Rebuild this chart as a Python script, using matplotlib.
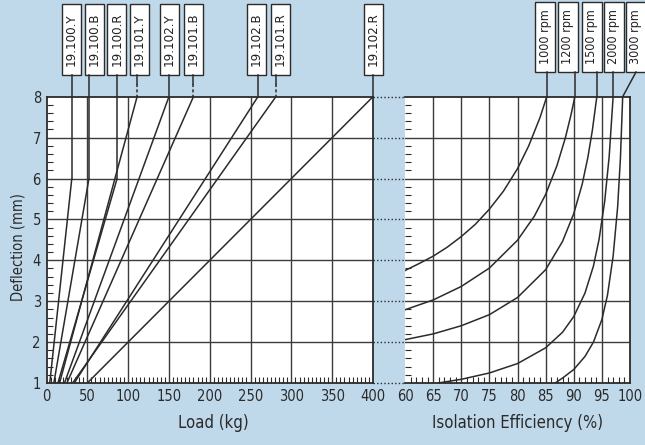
import matplotlib
matplotlib.use('Agg')
import matplotlib.pyplot as plt
from matplotlib import font_manager
from matplotlib.font_manager import FontProperties
from matplotlib.patches import Rectangle
from matplotlib.lines import Line2D
from matplotlib.ticker import MultipleLocator

# ---------------- data ----------------
mount_names = ['19.100.Y', '19.100.B', '19.100.R', '19.101.Y', '19.102.Y',
               '19.101.B', '19.102.B', '19.101.R', '19.102.R']
load_at_1mm = [4, 9, 14, 16, 22, 25, 34, 32, 50]          # kg at 1 mm deflection
load_at_end = [31, 52, 86.5, 111, 150, 180, 259, 281, 400]  # kg at end of line
defl_at_end = [6, 6, 6, 8, 8, 8, 8, 8, 8]                   # mm at end of line

rpm_names = ['1000 rpm', '1200 rpm', '1500 rpm', '2000 rpm', '3000 rpm']
eff_1000 = [60, 62.5, 65, 67.5, 70, 72.5, 75, 77.5, 80, 82, 84, 85.2]
defl_1000 = [3.75, 3.92, 4.10, 4.32, 4.58, 4.88, 5.25, 5.69, 6.24, 6.80, 7.49, 8.0]
eff_1200 = [60, 65, 70, 75, 80, 83, 85, 87, 88.5, 89.5, 90.2]
defl_1200 = [2.79, 3.03, 3.36, 3.81, 4.49, 5.08, 5.61, 6.31, 6.99, 7.55, 8.0]
eff_1500 = [60, 65, 70, 75, 80, 85, 88, 90, 91.5, 92.5, 93.3, 94.1]
defl_1500 = [2.06, 2.20, 2.40, 2.67, 3.09, 3.77, 4.46, 5.14, 5.86, 6.51, 7.17, 8.0]
eff_2000 = [65.9, 70, 75, 80, 85, 88, 90, 92, 93.5, 94.5, 95.5, 96.3, 97]
defl_2000 = [1.0, 1.09, 1.245, 1.475, 1.86, 2.24, 2.625, 3.2, 3.86, 4.51, 5.44, 6.54, 8.0]
eff_3000 = [86.7, 88, 90, 92, 93.5, 95, 96, 97, 97.8, 98.3, 98.7]
defl_3000 = [1.0, 1.12, 1.33, 1.65, 2.0, 2.55, 3.15, 4.1, 5.3, 6.5, 8.0]

load_ticks = [0, 50, 100, 150, 200, 250, 300, 350, 400]
eff_ticks = [60, 65, 70, 75, 80, 85, 90, 95, 100]
defl_ticks = [1, 2, 3, 4, 5, 6, 7, 8]

# ---------------- layout / style ----------------
W, H = 645, 445
BG = '#c0d9ea'
INK = '#2b2b2b'
GRID = '#3c3c3c'
mount_box_px = [71, 94, 116.7, 139, 169, 193, 256, 280, 373]
mount_dashed = [False, False, False, True, False, True, False, True, False]
rpm_box_px = [545, 568, 592, 614, 636]


def pick_narrow():
    best = None
    for f in font_manager.fontManager.ttflist:
        nm = f.name.lower()
        st = str(f.stretch).lower()
        if f.style != 'normal':
            continue
        if f.weight not in (400, 'normal', 'regular', 'book'):
            continue
        if 'narrow' in nm or 'condensed' in nm or st in ('condensed', 'semi-condensed'):
            if 'mono' in nm or 'serif' in nm and 'sans' not in nm:
                continue
            if 'liberation sans narrow' in nm:
                return f.fname
            if best is None:
                best = f.fname
    return best


narrow_path = pick_narrow()


def fp(size):
    if narrow_path:
        return FontProperties(fname=narrow_path, size=size)
    return FontProperties(family='Liberation Sans', size=size * 0.85)


def fx(px):
    return px / W


def fy(py):
    return 1 - py / H


fig = plt.figure(figsize=(W / 100, H / 100), dpi=100, facecolor=BG)

ax1 = fig.add_axes([fx(46.5), fy(383), (373 - 46.5) / W, (383 - 96.7) / H])
ax2 = fig.add_axes([fx(405), fy(383), (630 - 405) / W, (383 - 96.7) / H])

for ax in (ax1, ax2):
    ax.set_facecolor('white')
    ax.set_ylim(1, 8)
    ax.set_yticks(defl_ticks)
    ax.yaxis.set_minor_locator(MultipleLocator(0.2))
    ax.tick_params(which='major', length=0, pad=4, colors='#2a2a2a')
    ax.tick_params(which='minor', direction='in', length=4, width=0.8, color=INK)
    for s in ax.spines.values():
        s.set_color(INK)
        s.set_linewidth(1.3)
    for yv in defl_ticks[1:-1]:
        ax.axhline(yv, color=GRID, lw=1.0, zorder=1)

ax1.set_xlim(0, 400)
ax1.set_xticks(load_ticks)
ax1.xaxis.set_minor_locator(MultipleLocator(5))
for xv in load_ticks[1:-1]:
    ax1.axvline(xv, color=GRID, lw=1.0, zorder=1)

ax2.set_xlim(60, 100)
ax2.set_xticks(eff_ticks)
ax2.xaxis.set_minor_locator(MultipleLocator(1))
ax2.tick_params(axis='y', which='major', labelleft=False)
ax2.spines['left'].set_visible(False)
for xv in eff_ticks[1:-1]:
    ax2.axvline(xv, color=GRID, lw=1.0, zorder=1)

for ax in (ax1, ax2):
    for lbl in ax.get_xticklabels() + ax.get_yticklabels():
        lbl.set_fontproperties(fp(10.5))

# mounting load lines
for i in range(len(mount_names)):
    ax1.plot([load_at_1mm[i], load_at_end[i]], [1, defl_at_end[i]],
             color=INK, lw=1.1, zorder=3, solid_capstyle='butt')

# efficiency curves
rpm_eff = [eff_1000, eff_1200, eff_1500, eff_2000, eff_3000]
rpm_defl = [defl_1000, defl_1200, defl_1500, defl_2000, defl_3000]
for e, d in zip(rpm_eff, rpm_defl):
    ax2.plot(e, d, color=INK, lw=1.1, zorder=3, clip_on=True)

# dotted continuation of horizontal lines in the gap
for yv in defl_ticks:
    yd = ax1.transData.transform((0, yv))[1]
    yf = fig.transFigure.inverted().transform((0, yd))[1]
    fig.add_artist(Line2D([fx(373), fx(405)], [yf, yf], transform=fig.transFigure,
                          color=INK, lw=1.0, linestyle=(0, (1, 1.6))))


def to_fig(ax, x, y):
    return fig.transFigure.inverted().transform(ax.transData.transform((x, y)))


# label boxes for mountings
BOX_TOP, BOX_BOT = 4, 75
for i, name in enumerate(mount_names):
    cx = mount_box_px[i]
    bw = 19
    fig.add_artist(Rectangle((fx(cx - bw / 2), fy(BOX_BOT)), bw / W, (BOX_BOT - BOX_TOP) / H,
                             transform=fig.transFigure, fc='white', ec=INK, lw=1.0))
    fig.text(fx(cx), fy((BOX_TOP + BOX_BOT) / 2), name, rotation=90,
             ha='center', va='center', fontproperties=fp(9.5), color='#222222')
    xe, ye = to_fig(ax1, load_at_end[i], defl_at_end[i])
    if mount_dashed[i]:
        ymid = fy(84)
        fig.add_artist(Line2D([xe, xe], [fy(BOX_BOT), ymid], transform=fig.transFigure,
                              color=INK, lw=1.1))
        fig.add_artist(Line2D([xe, xe], [ymid, ye], transform=fig.transFigure,
                              color=INK, lw=1.1, linestyle=(0, (2, 1.5))))
    else:
        fig.add_artist(Line2D([xe, xe], [fy(BOX_BOT), ye], transform=fig.transFigure,
                              color=INK, lw=1.1))

# label boxes for rpm
RB_TOP, RB_BOT = 2, 72
for i, name in enumerate(rpm_names):
    cx = rpm_box_px[i]
    bw = 20
    fig.add_artist(Rectangle((fx(cx - bw / 2), fy(RB_BOT)), bw / W, (RB_BOT - RB_TOP) / H,
                             transform=fig.transFigure, fc='white', ec=INK, lw=1.0))
    fig.text(fx(cx), fy((RB_TOP + RB_BOT) / 2), name, rotation=90,
             ha='center', va='center', fontproperties=fp(9), color='#222222')
    xe, ye = to_fig(ax2, rpm_eff[i][-1], rpm_defl[i][-1])
    xs = xe if i < 4 else fx(cx)
    fig.add_artist(Line2D([xs, xe], [fy(RB_BOT), ye], transform=fig.transFigure,
                          color=INK, lw=1.1))

# axis titles
fig.text(fx(213), fy(423), 'Load (kg)', ha='center', va='center',
         fontproperties=fp(12), color='#2a2a2a')
fig.text(fx(518), fy(423), 'Isolation Efficiency (%)', ha='center', va='center',
         fontproperties=fp(12), color='#2a2a2a')
fig.text(fx(18), fy(247), 'Deflection (mm)', rotation=90, ha='center', va='center',
         fontproperties=fp(10.5), color='#2a2a2a')

fig.savefig('out.png', dpi=100, facecolor=BG)
